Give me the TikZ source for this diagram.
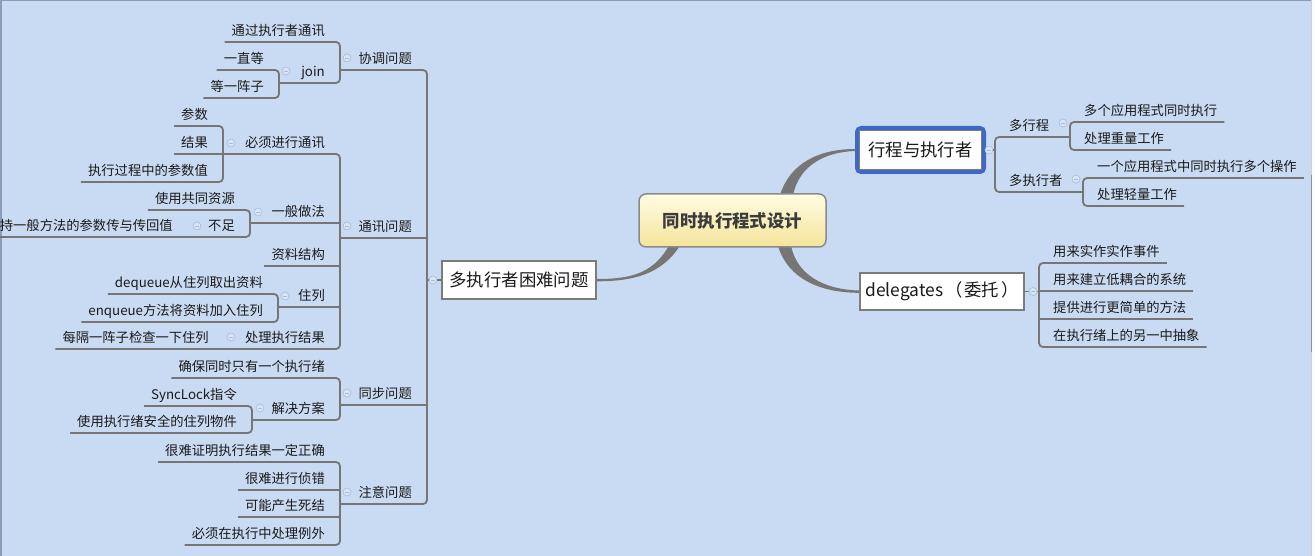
\documentclass[tikz,border=0pt]{standalone}
\usepackage{fontspec}
\newfontfamily\cjk{Noto Sans CJK SC}
\usetikzlibrary{calc}
\definecolor{bgc}{HTML}{C9DBF3}
\definecolor{lnc}{HTML}{767676}
\definecolor{txc}{HTML}{1A1A1A}
\definecolor{bluebd}{HTML}{3B69C3}
\definecolor{boxbd}{HTML}{7C7C7C}
\definecolor{rootbd}{HTML}{8A8A8A}
\definecolor{rtop}{HTML}{FFFCE3}
\definecolor{rbot}{HTML}{F5E49A}
\definecolor{ccd}{HTML}{A9BDD9}
\definecolor{ccf}{HTML}{D6E4F6}
\definecolor{edgec}{HTML}{8A9DB8}
\pgfdeclarelayer{back}
\pgfsetlayers{back,main}
\tikzset{
  lt/.style={font={\cjk\fontsize{13.3}{16}\selectfont}, text=txc, inner xsep=7pt, inner ysep=4pt, text height=11pt, text depth=2.5pt},
  lft/.style={lt, anchor=south east},
  rgt/.style={lt, anchor=south west},
  conn/.style={draw=lnc, line width=1.8pt, rounded corners=4pt},
  bigbox/.style={draw=boxbd, line width=1.8pt, fill=white, inner sep=0pt, text=txc, font={\cjk\fontsize{17.4}{20}\selectfont}},
  rootbox/.style={draw=rootbd, line width=1.5pt, rounded corners=7pt, top color=rtop, bottom color=rbot, minimum width=187pt, minimum height=53pt, text=txc!85!white, font={\cjk\bfseries\fontsize{17.4}{20}\selectfont}},
  coll/.style={circle, draw=ccd, fill=ccf, line width=0.6pt, minimum size=8pt, inner sep=0pt,
    path picture={\draw[ccd, line width=0.8pt] ($(path picture bounding box.center)+(-2.2,0)$) -- ($(path picture bounding box.center)+(2.2,0)$);}},
  taper/.style={fill=lnc}
}
\begin{document}
\begin{tikzpicture}[x=1pt,y=-1pt]
\useasboundingbox (0,0) rectangle (1315,556);
\begin{pgfonlayer}{back}
\fill[bgc] (0,0) rectangle (1315,556);
\draw[edgec, line width=1.5pt] (0,0.75) -- (1315,0.75);
\draw[edgec, line width=1.5pt] (0.75,0) -- (0.75,556);
\fill[white!92!bgc] (1310.5,0) rectangle (1315,556);
\draw[lnc!35!white, line width=0.8pt] (1311,0) -- (1311,556);
\draw[lnc!80!white, line width=0.8pt] (1311,175) -- (1311,352);
\end{pgfonlayer}

% bus coordinates
\coordinate (B427) at (427,0);
\coordinate (B340) at (340,0);
\coordinate (B279) at (279,0);
\coordinate (B223) at (223,0);
\coordinate (B250) at (250,0);
\coordinate (B278) at (278,0);
\coordinate (B252) at (252,0);
\coordinate (R995) at (995,0);
\coordinate (R1070) at (1070,0);
\coordinate (R1083) at (1083,0);
\coordinate (R1039) at (1039,0);

% main nodes
\node[rootbox] (root) at (732.5,220.5) {同时执行程式设计};
\node[bigbox, minimum width=154pt, minimum height=38pt] (mp) at (519,280) {多执行者困难问题};
\node[draw=bluebd, line width=4pt, rounded corners=4pt, fill=white, inner sep=0pt, minimum width=127pt, minimum height=44pt, text=txc, font={\cjk\fontsize{17.4}{20}\selectfont}] (xc) at (920.5,150) {行程与执行者};
\draw[boxbd, line width=1.2pt] ($(xc.north west)+(4.6,4.6)$) rectangle ($(xc.south east)+(-4.6,-4.6)$);
\node[bigbox, minimum width=164pt, minimum height=37pt] (dl) at (942,291.5) {delegates\kern2pt（\kern2pt委托\kern2pt）};

% tapered main branches
\begin{pgfonlayer}{back}
\fill[taper] ($(root.south west)+(30,-1)$) .. controls +(-16,28) and +(31,0) .. ($(mp.east)+(0,-1)$) -- ($(mp.east)+(0,1.3)$) .. controls +(33,0) and +(-19,29) .. ($(root.south west)+(41,-1)$) -- cycle;
\fill[taper] ($(root.north west)+(142,1)$) .. controls +(10,-31) and +(-36,0) .. ($(xc.west)+(0,-1)$) -- ($(xc.west)+(0,1)$) .. controls +(-31,1) and +(6,-28) .. ($(root.north west)+(155,1)$) -- cycle;
\fill[taper] ($(root.south west)+(140,-1)$) .. controls +(10,32) and +(-39,0) .. ($(dl.west)+(0,1.3)$) -- ($(dl.west)+(0,-1)$) .. controls +(-37,-1) and +(6,27) .. ($(root.south west)+(153,-1)$) -- cycle;
\end{pgfonlayer}

% level 1 (left)
\node[lft] (xt) at (419,70) {协调问题};
\node[lft] (tx) at (419,238) {通讯问题};
\node[lft] (tb) at (419,405) {同步问题};
\node[lft] (zy) at (419,504) {注意问题};

% children of bus 340
\node[lft] (n1) at (332,42) {通过执行者通讯};
\node[lft] (jn) at (332,83) {join};
\node[lft] (bx) at (332,154) {必须进行通讯};
\node[lft] (yb) at (332,223) {一般做法};
\node[lft] (zl) at (332,266) {资料结构};
\node[lft] (zl2) at (332,307) {住列};
\node[lft] (cl) at (332,349) {处理执行结果};
\node[lft] (qb) at (332,378) {确保同时只有一个执行绪};
\node[lft] (jj) at (332,420) {解决方案};
\node[lft] (hn1) at (332,462) {很难证明执行结果一定正确};
\node[lft] (hn2) at (332,490) {很难进行侦错};
\node[lft] (kn) at (332,517) {可能产生死结};
\node[lft] (bz2) at (332,545) {必须在执行中处理例外};

% deeper
\node[lft] (yz) at (271,70) {一直等};
\node[lft] (dz) at (271,98) {等一阵子};
\node[lft] (cs) at (215,126) {参数};
\node[lft] (jg) at (215,154) {结果};
\node[lft] (zz) at (215,182) {执行过程中的参数值};
\node[lft] (sy) at (242,210) {使用共同资源};
\node[lft] (bz) at (242,237) {不足};
\node[lft] (cz) at (180,237) {持一般方法的参数传与传回值};
\node[lft] (dq) at (270,294) {dequeue从住列取出资料};
\node[lft] (eq) at (270,322) {enqueue方法将资料加入住列};
\node[lft] (mg) at (216,349) {每隔一阵子检查一下住列};
\node[lft] (sl) at (244,406) {SyncLock指令};
\node[lft] (sy2) at (244,433) {使用执行绪安全的住列物件};

% right side
\node[rgt] (dx) at (1002,137) {多行程};
\node[rgt] (dz2) at (1002,192) {多执行者};
\node[rgt] (a1) at (1077,122) {多个应用程式同时执行};
\node[rgt] (a2) at (1077,150) {处理重量工作};
\node[rgt] (b1) at (1090,178) {一个应用程式中同时执行多个操作};
\node[rgt] (b2) at (1090,206) {处理轻量工作};
\node[rgt] (d1) at (1046,263) {用来实作实作事件};
\node[rgt] (d2) at (1046,291) {用来建立低耦合的系统};
\node[rgt] (d3) at (1046,319) {提供进行更简单的方法};
\node[rgt] (d4) at (1046,347) {在执行绪上的另一中抽象};

% connectors left
\draw[conn] (B340 |- xt.south) -- (B427 |- xt.south) -- (B427 |- zy.south) -- (B340 |- zy.south);
\draw[conn] (B340 |- tx.south) -- (B427 |- tx.south);
\draw[conn] (B340 |- tb.south) -- (B427 |- tb.south);
\draw[conn] (B427 |- mp.west) -- (mp.west);

\draw[conn] (n1.south west) -- (B340 |- n1.south) -- (B340 |- jn.south) -- (B279 |- jn.south);
\draw[conn] (yz.south west) -- (B279 |- yz.south) -- (B279 |- dz.south) -- (dz.south west);

\draw[conn] (B223 |- bx.south) -- (B340 |- bx.south) -- (B340 |- cl.south) -- (mg.south west);
\draw[conn] (B250 |- yb.south) -- (B340 |- yb.south);
\draw[conn] (zl.south west) -- (B340 |- zl.south);
\draw[conn] (B278 |- zl2.south) -- (B340 |- zl2.south);

\draw[conn] (cs.south west) -- (B223 |- cs.south) -- (B223 |- zz.south) -- (zz.south west);
\draw[conn] (jg.south west) -- (B223 |- jg.south);
\draw[conn] (sy.south west) -- (B250 |- sy.south) -- (B250 |- bz.south) -- (cz.south west);
\draw[conn] (dq.south west) -- (B278 |- dq.south) -- (B278 |- eq.south) -- (eq.south west);

\draw[conn] (qb.south west) -- (B340 |- qb.south) -- (B340 |- jj.south) -- (B252 |- jj.south);
\draw[conn] (sl.south west) -- (B252 |- sl.south) -- (B252 |- sy2.south) -- (sy2.south west);

\draw[conn] (hn1.south west) -- (B340 |- hn1.south) -- (B340 |- bz2.south) -- (bz2.south west);
\draw[conn] (hn2.south west) -- (B340 |- hn2.south);
\draw[conn] (kn.south west) -- (B340 |- kn.south);

% connectors right
\draw[conn] (xc.east) -- (R995 |- xc.east);
\draw[conn] (R1070 |- dx.south) -- (R995 |- dx.south) -- (R995 |- dz2.south) -- (R1083 |- dz2.south);
\draw[conn] (a1.south east) -- (R1070 |- a1.south) -- (R1070 |- a2.south) -- (a2.south east);
\draw[conn] (b1.south east) -- (R1083 |- b1.south) -- (R1083 |- b2.south) -- (b2.south east);
\draw[conn] (dl.east) -- (R1039 |- dl.east);
\draw[conn] (d1.south east) -- (R1039 |- d1.south) -- (R1039 |- d4.south) -- (d4.south east);
\draw[conn] (d2.south east) -- (R1039 |- d2.south);
\draw[conn] (d3.south east) -- (R1039 |- d3.south);

% collapse markers
\node[coll] (k0) at (433,280) {};
\node[coll] (k1) at (347,58) {};
\node[coll] (k2) at (286,71) {};
\node[coll] (k3) at (231,143) {};
\node[coll] (k4) at (347,226) {};
\node[coll] (k5) at (258,212) {};
\node[coll] (k6) at (197,226) {};
\node[coll] (k7) at (285,296) {};
\node[coll] (k8) at (231,337) {};
\node[coll] (k9) at (347,393) {};
\node[coll] (k10) at (260,408) {};
\node[coll] (k11) at (347,492) {};
\node[coll] (k12) at (989,150) {};
\node[coll] (k13) at (1063,123) {};
\node[coll] (k14) at (1076,179) {};
\node[coll] (k15) at (1033,291.5) {};
\end{tikzpicture}
\end{document}
